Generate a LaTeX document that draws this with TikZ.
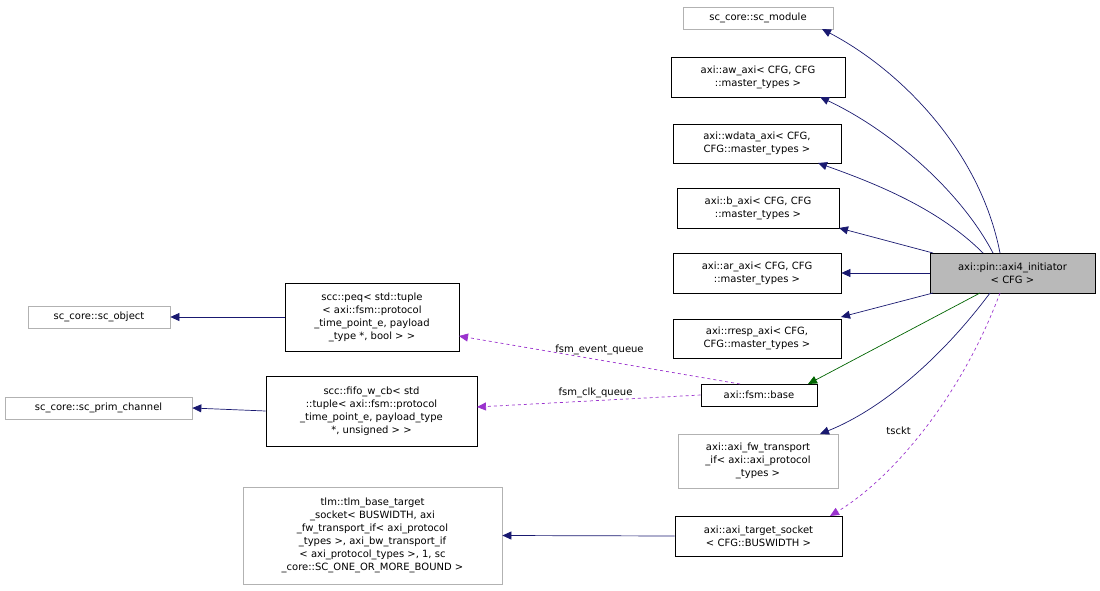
\documentclass[tikz,border=0pt]{standalone}
\usepackage{fontspec}
\setmainfont{DejaVu Sans}
\usetikzlibrary{arrows.meta}
\definecolor{nv}{HTML}{191970}
\definecolor{pu}{HTML}{9A32CD}
\definecolor{gr}{HTML}{006400}
\newcommand{\lt}{\textless}
\newcommand{\gt}{\textgreater}
\begin{document}
\begin{tikzpicture}[x=1pt,y=-1pt,
 bx/.style={draw=black,line width=0.7pt,inner sep=1pt,align=center,font=\fontsize{10}{13}\selectfont},
 gx/.style={bx,draw=gray!60},
 inh/.style={draw=nv,line width=0.7pt,-{Triangle[open,fill=nv,length=9pt,width=8pt]}},
 grn/.style={draw=gr,line width=0.7pt,-{Triangle[open,fill=gr,length=9pt,width=8pt]}},
 use/.style={draw=pu,dashed,line width=0.7pt,-{Triangle[open,fill=pu,length=9pt,width=8pt]}},
 lb/.style={font=\fontsize{10}{12}\selectfont}]
\useasboundingbox (0,0) rectangle (1100,591);
\node[gx,minimum width=150,minimum height=22] (mod) at (758,18) {sc\_core::sc\_module};
\node[bx,minimum width=174,minimum height=40] (aw) at (758,77) {axi::aw\_axi\lt{} CFG, CFG\\::master\_types \gt};
\node[bx,minimum width=168,minimum height=39] (wd) at (757,143.5) {axi::wdata\_axi\lt{} CFG,\\ CFG::master\_types \gt};
\node[bx,minimum width=162,minimum height=40] (b) at (758,208) {axi::b\_axi\lt{} CFG, CFG\\::master\_types \gt};
\node[bx,minimum width=168,minimum height=40] (ar) at (757,273) {axi::ar\_axi\lt{} CFG, CFG\\::master\_types \gt};
\node[bx,minimum width=168,minimum height=39] (rr) at (757,338.5) {axi::rresp\_axi\lt{} CFG,\\ CFG::master\_types \gt};
\node[bx,fill=gray!55,minimum width=165,minimum height=40] (ini) at (1012.5,273) {axi::pin::axi4\_initiator\\\lt{} CFG \gt};
\node[bx,minimum width=174,minimum height=68] (peq) at (372,317) {scc::peq\lt{} std::tuple\\\lt{} axi::fsm::protocol\\\_time\_point\_e, payload\\\_type *, bool \gt{} \gt};
\node[gx,minimum width=142,minimum height=22] (obj) at (99,317) {sc\_core::sc\_object};
\node[bx,minimum width=116,minimum height=22] (fsm) at (759,395) {axi::fsm::base};
\node[bx,minimum width=211,minimum height=70] (fifo) at (371.5,411) {scc::fifo\_w\_cb\lt{} std\\::tuple\lt{} axi::fsm::protocol\\\_time\_point\_e, payload\_type\\*, unsigned \gt{} \gt};
\node[gx,minimum width=187,minimum height=22] (prim) at (98.5,408) {sc\_core::sc\_prim\_channel};
\node[gx,minimum width=160,minimum height=54] (fw) at (758,461) {axi::axi\_fw\_transport\\\_if\lt{} axi::axi\_protocol\\\_types \gt};
\node[gx,minimum width=259,minimum height=97] (tlm) at (372.5,535.5) {tlm::tlm\_base\_target\\\_socket\lt{} BUSWIDTH, axi\\\_fw\_transport\_if\lt{} axi\_protocol\\\_types \gt, axi\_bw\_transport\_if\\\lt{} axi\_protocol\_types \gt, 1, sc\\\_core::SC\_ONE\_OR\_MORE\_BOUND \gt};
\node[bx,minimum width=167,minimum height=40] (ts) at (758.5,536) {axi::axi\_target\_socket\\\lt{} CFG::BUSWIDTH \gt};
\draw[inh] (1000,253) .. controls (980,150) and (900,70) .. (822,29);
\draw[inh] (993,253) .. controls (960,190) and (890,130) .. (820,97);
\draw[inh] (983,253) .. controls (940,210) and (880,185) .. (818,163);
\draw[inh] (933,253) -- (839,228);
\draw[inh] (ini.west) -- (ar.east);
\draw[inh] (933,293) -- (841,317);
\draw[grn] (980,293) -- (808,384);
\draw[inh] (990,293) .. controls (940,360) and (880,410) .. (820,434);
\draw[use] (1000,293) .. controls (960,400) and (890,480) .. (830,516) node[lb,pos=0.5,left=8pt] {tsckt};
\draw[use] (740,384) -- (459,336) node[lb,pos=0.5,above=1pt] {fsm\_event\_queue};
\draw[use] (fsm.west) -- (477,407) node[lb,pos=0.47,above=-1pt] {fsm\_clk\_queue};
\draw[inh] (peq.west) -- (obj.east);
\draw[inh] (fifo.west) -- (prim.east);
\draw[inh] (ts.west) -- (tlm.east);
\end{tikzpicture}
\end{document}
